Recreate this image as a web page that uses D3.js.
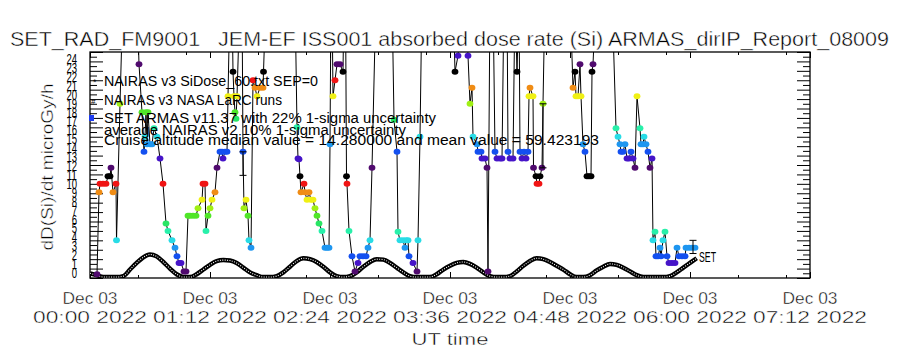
<!DOCTYPE html>
<html><head><meta charset="utf-8">
<script src="https://cdn.jsdelivr.net/npm/d3@7/dist/d3.min.js"></script>
<style>
body{margin:0;background:#fff}
svg{display:block}
text{font-family:"Liberation Sans",Arial,sans-serif;fill:#000}
text.thin{stroke:#fff;stroke-width:0.45px;paint-order:normal}
</style>
</head><body>
<svg id="c" width="900" height="350"></svg>
<script>
// ---------------- DATA ----------------
const titleText = "SET_RAD_FM9001   JEM-EF ISS001 absorbed dose rate (Si) ARMAS_dirIP_Report_08009";
const yTitle = "dD(Si)/dt microGy/h";
const xTitle = "UT time";
// x axis in minutes after 2022-12-03 00:00 UT
const xMajorTicks = [0, 72, 144, 216, 288, 360, 432];
const xTickDate = ["Dec 03", "Dec 03", "Dec 03", "Dec 03", "Dec 03", "Dec 03", "Dec 03"];
const xTickTime = ["00:00 2022", "01:12 2022", "02:24 2022", "03:36 2022", "04:48 2022", "06:00 2022", "07:12 2022"];
const xMinorTicks = [28.8, 57.6, 100.8, 129.6, 172.8, 201.6, 244.8, 273.6, 316.8, 345.6, 388.8, 417.6];
const yTickLabels = [0,1,2,3,4,5,6,7,8,9,10,11,12,13,14,15,16,17,18,19,20,21,22,23,24];
const yMinorTicks = [0.5,1.5,2.5,3.5,4.5,5.5,6.5,7.5,8.5,9.5,10.5,11.5,12.5,13.5,14.5,15.5,16.5,17.5,18.5,19.5,20.5,21.5,22.5,23.5];

const legendLabels = [
  "NAIRAS v3 SiDose_60.txt SEP=0",
  "NAIRAS v3 NASA LaRC runs",
  "SET ARMAS v11.37 with 22% 1-sigma uncertainty",
  "average NAIRAS v2 10% 1-sigma uncertainty",
  "Cruise altitude median value = 14.280000 and mean value = 59.423193"
];

// NAIRAS model (minutes, microGy/h)
const modelTimes = [0,4,8,12,16,20,24,28,32,36,40,44,48,52,56,60,64,68,72,76,80,84,88,92,96,100,104,108,112,116,120,124,128,132,136,140,144,148,152,156,160,164,168,172,176,180,184,188,192,196,200,204,208,212,216,220,224,228,232,236,240,244,248,252,256,260,264,268,272,276,280,284,288,292,296,300,304,308,312,316,320,324,328,332,336,340,344,348,352,356,360,364];
const modelValues = [0.5,0.3,0.1,0.1,0.1,0.2,0.9,1.6,2.2,2.5,2.3,1.7,1.0,0.4,0.1,0.1,0.4,0.9,1.4,1.8,1.9,1.85,1.6,1.1,0.6,0.3,0.1,0.1,0.2,0.6,1.2,1.8,2.1,2.0,1.7,1.2,0.6,0.2,0.1,0.2,0.6,1.2,1.7,2.0,1.95,1.6,1.1,0.6,0.2,0.1,0.1,0.1,0.4,0.9,1.3,1.6,1.7,1.5,1.1,0.6,0.2,0.1,0.1,0.2,0.7,1.3,1.8,2.1,2.0,1.7,1.3,0.9,0.4,0.1,0.1,0.3,0.8,1.2,1.5,1.4,1.1,0.7,0.3,0.1,0.1,0.1,0.1,0.2,0.6,1.1,1.6,2.1];

// SET ARMAS measurements (minutes, microGy/h); values above 24 leave the plot
const armasTimes = [4.2,5.4,6.0,7.8,9.6,10.8,12.0,12.6,13.8,15.6,15.9,18.0,19.8,28.2,29.4,31.2,32.4,33.0,33.6,34.2,34.8,36.0,37.2,38.4,40.2,42.0,43.8,45.6,46.8,49.2,51.0,52.2,53.4,54.6,56.4,57.6,58.8,60.0,61.8,63.6,64.8,67.2,67.8,69.0,69.6,70.8,72.0,73.2,75.0,76.2,78.0,79.2,79.8,81.0,82.2,82.8,84.0,85.2,85.8,86.4,87.0,87.6,88.2,90.0,91.2,91.8,92.4,93.6,94.8,95.4,96.6,97.8,99.0,100.2,102.0,103.8,104.1,105.6,123.0,124.2,124.8,125.4,126.0,126.6,128.4,129.0,130.2,131.4,132.6,133.8,135.0,136.2,137.4,139.2,141.0,142.2,143.4,144.0,144.6,145.2,145.8,147.0,148.2,150.0,151.8,152.4,153.3,153.9,154.2,155.4,157.2,159.0,160.8,162.0,163.8,165.6,166.8,168.0,169.2,171.6,181.2,182.4,184.2,184.8,186.0,187.8,189.0,189.6,190.8,191.4,193.8,196.2,196.8,198.0,199.2,217.8,219.0,220.8,223.2,225.6,226.8,228.0,229.2,229.8,232.2,232.8,234.6,235.2,237.0,238.2,238.8,240.0,241.8,243.0,244.2,246.0,247.2,248.4,250.2,250.8,252.0,253.8,255.0,256.2,257.4,258.0,259.2,260.4,261.6,262.8,263.4,264.0,265.8,266.1,267.6,268.2,269.4,270.0,271.2,271.8,273.0,288.0,289.8,291.0,291.6,292.8,294.0,294.6,295.8,297.0,298.2,299.4,300.6,301.2,301.8,303.6,313.2,315.6,316.8,318.0,318.6,319.8,321.0,322.2,323.4,324.6,325.8,327.0,328.2,330.0,330.6,331.8,332.4,333.6,334.8,336.0,337.2,337.8,339.0,339.6,340.8,342.0,342.6,343.8,345.0,346.2,347.4,349.2,351.0,352.2,353.4,355.2,357.0,357.6,359.4,361.2,363.0];
const armasValues = [0.4,9.1,10.0,10.0,10.0,10.8,10.8,11.7,9.1,10.0,4.0,18.5,30,30,22.7,17.6,13.4,15.0,17.6,14.2,17.6,14.2,14.2,15.9,15.0,12.7,10.0,5.8,5.0,4.0,3.2,2.3,1.6,1.6,0.7,0.7,6.6,6.6,6.6,6.6,7.4,8.3,10.0,10.0,5.0,6.6,7.4,8.3,9.1,11.7,13.4,13.4,12.7,13.4,13.4,19.3,30,30,21.9,19.3,17.6,16.9,19.3,30,30,13.4,7.4,8.3,6.6,4.0,3.2,21.0,20.2,19.3,20.2,20.2,21.9,30,30,16.0,12.7,12.6,10.8,9.1,10.0,9.1,8.3,9.1,8.3,8.3,7.4,6.6,5.8,5.0,3.2,3.2,3.2,14.2,30,30,19.3,21.0,22.7,22.7,21.9,30,30,10.8,10.0,5.0,2.3,0.7,1.6,2.3,2.3,2.3,3.2,4.0,11.7,30,30,16.8,13.4,4.9,4.0,4.0,3.2,4.0,4.0,2.3,1.6,0.7,4.0,15.0,30,30,21.9,23.6,30,30,23.6,18.5,20.2,15.0,14.2,13.4,13.4,12.7,12.7,11.7,0.7,30,30,13.4,12.7,12.7,12.7,30,30,13.4,12.7,12.7,30,21.9,30,13.4,12.7,13.4,12.7,13.4,19.3,20.2,19.3,11.7,10.8,10.0,10.0,10.8,11.7,18.5,30,30,20.2,21.9,19.3,19.3,22.7,19.3,14.2,13.4,10.8,10.8,10.8,21.9,22.7,30,30,15.9,15.0,14.2,13.4,13.4,14.2,12.7,12.7,13.4,12.7,11.7,19.3,15.9,14.2,14.2,15.0,14.2,13.4,11.7,12.7,4.0,4.9,2.3,2.3,3.2,2.3,4.0,4.9,2.3,1.6,1.6,1.6,3.2,2.3,2.3,2.3,3.2,3.2,3.2,3.2];

// error bars (minutes, low, high)
const errTimes = [91.8, 271.8, 361.8];
const errLow = [10.9, 11.7, 2.6];
const errHigh = [13.4, 18.5, 4.0];

// colour table (wraps every 11 microGy/h)
const colourBreaks = [1.15,1.95,2.75,3.6,4.5,5.4,6.2,7.0,7.85,8.7,9.55,10.4];
const colourTable = ["#500a6e","#4614c8","#1450f0","#1e96f0","#28dce6","#28f0aa","#28e664","#50e628","#a0f014","#f0f014","#f08c14","#f01414","#000000"];

// ---------------- CHART ----------------
const L = 90, R = 810, T = 52, B = 278;
const svg = d3.select("#c");
const x = d3.scaleLinear().domain([0, 432]).range([L, R]);
const y = d3.scaleLinear().domain([0, 24]).range([B, T]);
const yLab = d3.scaleLinear().domain([0, 24]).range([273, 59]);
const colour = d3.scaleThreshold().domain(colourBreaks).range(colourTable);
const col = v => colour(((v % 11) + 11) % 11);

svg.append("defs").append("clipPath").attr("id", "clip")
  .append("rect").attr("x", L).attr("y", T).attr("width", R - L).attr("height", B - T);

// title
svg.append("text").attr("class", "thin").attr("x", 10).attr("y", 46).attr("font-size", 21)
  .style("white-space", "pre").attr("textLength", 879).attr("lengthAdjust", "spacingAndGlyphs")
  .text(titleText);

// axes
function noDomain(g){ g.select(".domain").remove(); g.selectAll("line").attr("stroke","#000"); }
svg.append("g").attr("transform", `translate(0,${B})`)
  .call(d3.axisBottom(x).tickValues(xMajorTicks).tickSize(-6).tickFormat("")).call(noDomain);
svg.append("g").attr("transform", `translate(0,${B})`)
  .call(d3.axisBottom(x).tickValues(xMinorTicks).tickSize(-3).tickFormat("")).call(noDomain);
svg.append("g").attr("transform", `translate(0,${T})`)
  .call(d3.axisTop(x).tickValues(xMajorTicks).tickSize(-6).tickFormat("")).call(noDomain);
svg.append("g").attr("transform", `translate(0,${T})`)
  .call(d3.axisTop(x).tickValues(xMinorTicks).tickSize(-3).tickFormat("")).call(noDomain);
svg.append("g").attr("transform", `translate(${L},0)`)
  .call(d3.axisLeft(y).tickValues(yTickLabels).tickSize(-13).tickFormat("")).call(noDomain);
svg.append("g").attr("transform", `translate(${L},0)`)
  .call(d3.axisLeft(y).tickValues(yMinorTicks).tickSize(-7).tickFormat("")).call(noDomain);
svg.append("g").attr("transform", `translate(${R},0)`)
  .call(d3.axisRight(y).tickValues(yTickLabels).tickSize(-13).tickFormat("")).call(noDomain);
svg.append("g").attr("transform", `translate(${R},0)`)
  .call(d3.axisRight(y).tickValues(yMinorTicks).tickSize(-7).tickFormat("")).call(noDomain);
svg.append("rect").attr("x", L).attr("y", T).attr("width", R - L).attr("height", B - T)
  .attr("fill", "none").attr("stroke", "#000").attr("stroke-width", 1.3);

// y tick labels
svg.append("g").selectAll("text").data(yTickLabels).join("text")
  .attr("x", 77).attr("y", d => yLab(d) + 5).attr("text-anchor", "end").attr("font-size", 14)
  .attr("textLength", d => String(d).length * 5.3).attr("lengthAdjust", "spacingAndGlyphs")
  .text(d => d);

// x tick labels
const xl = svg.append("g");
xl.selectAll("text.d").data(xMajorTicks).join("text").attr("class", "d thin")
  .attr("x", d => x(d)).attr("y", 304).attr("text-anchor", "middle").attr("font-size", 17)
  .attr("textLength", 55).attr("lengthAdjust", "spacingAndGlyphs")
  .text((d, i) => xTickDate[i]);
xl.selectAll("text.t").data(xMajorTicks).join("text").attr("class", "t thin")
  .attr("x", d => x(d)).attr("y", 323).attr("text-anchor", "middle").attr("font-size", 17)
  .attr("textLength", 114).attr("lengthAdjust", "spacingAndGlyphs")
  .text((d, i) => xTickTime[i]);
svg.append("text").attr("class", "thin").attr("x", 450).attr("y", 345).attr("text-anchor", "middle").attr("font-size", 17)
  .attr("textLength", 77).attr("lengthAdjust", "spacingAndGlyphs").text(xTitle);
svg.append("text").attr("class", "thin").attr("transform", "translate(53,167) rotate(-90)").attr("text-anchor", "middle")
  .attr("font-size", 17).attr("textLength", 167).attr("lengthAdjust", "spacingAndGlyphs").text(yTitle);

const plot = svg.append("g").attr("clip-path", "url(#clip)");

// model curve (two overlapping symbol series -> checkered band)
const mdata = modelTimes.map((t, i) => [t, modelValues[i]]);
const mline = d3.line().x(d => x(d[0])).y(d => y(d[1])).curve(d3.curveMonotoneX);
plot.append("path").attr("d", mline(mdata)).attr("fill", "none").attr("stroke", "#000").attr("stroke-width", 4.5);
plot.append("path").attr("d", mline(mdata)).attr("fill", "none").attr("stroke", "#fff")
  .attr("stroke-width", 1.1).attr("stroke-dasharray", "1 1.4");

// ARMAS line and points
const adata = armasTimes.map((t, i) => [t, armasValues[i]]);
plot.append("path").attr("d", d3.line().x(d => x(d[0])).y(d => y(d[1]))(adata))
  .attr("fill", "none").attr("stroke", "#000").attr("stroke-width", 1);
plot.append("g").selectAll("ellipse").data(adata.filter(d => d[1] <= 24.5)).join("ellipse")
  .attr("cx", d => x(d[0])).attr("cy", d => y(d[1])).attr("rx", 3.4).attr("ry", 3)
  .attr("fill", d => col(d[1]));

// error bars
const eg = plot.append("g").attr("stroke", "#000").attr("stroke-width", 1);
errTimes.forEach((t, i) => {
  eg.append("line").attr("x1", x(t)).attr("x2", x(t)).attr("y1", y(errLow[i])).attr("y2", y(errHigh[i]));
  eg.append("line").attr("x1", x(t) - 3.5).attr("x2", x(t) + 3.5).attr("y1", y(errLow[i])).attr("y2", y(errLow[i]));
  eg.append("line").attr("x1", x(t) - 3.5).attr("x2", x(t) + 3.5).attr("y1", y(errHigh[i])).attr("y2", y(errHigh[i]));
});
svg.append("text").attr("x", 699).attr("y", 262).attr("font-size", 14)
  .attr("textLength", 17).attr("lengthAdjust", "spacingAndGlyphs").text("SET");

// legend
const legY = [86, 105, 123, 135, 145];
const legW = [214, 178, 332, 302, 495];
svg.append("g").selectAll("text").data(legendLabels).join("text")
  .attr("x", 104).attr("y", (d, i) => legY[i]).attr("font-size", 14)
  .attr("textLength", (d, i) => legW[i]).attr("lengthAdjust", "spacingAndGlyphs")
  .style("white-space", "pre").text(d => d);
svg.append("text").attr("x", 93).attr("y", 85).attr("font-size", 9).text("*");
svg.append("text").attr("x", 91).attr("y", 104).attr("font-size", 8).text("#");
svg.append("rect").attr("x", 89).attr("y", 115).attr("width", 5).attr("height", 6).attr("fill", "#1e3cf0");
</script>
</body></html>
